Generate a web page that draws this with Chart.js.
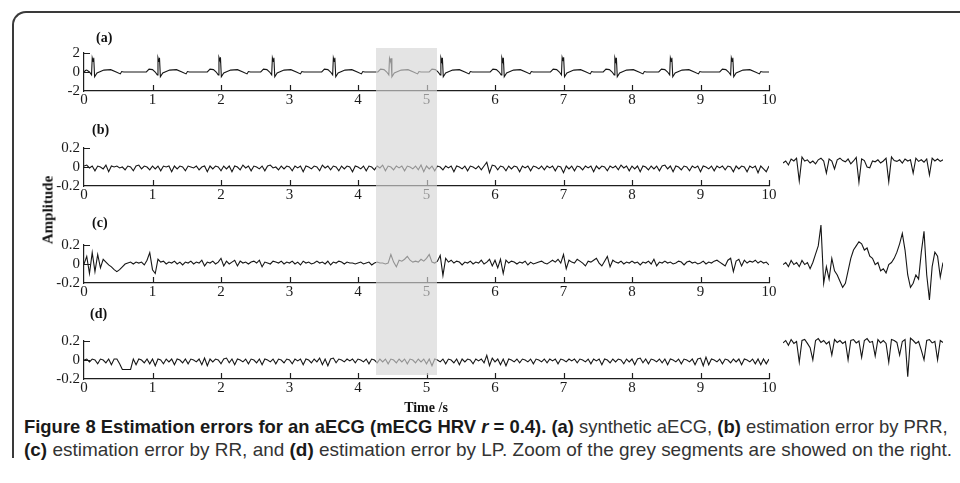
<!DOCTYPE html>
<html>
<head>
<meta charset="utf-8">
<script src="https://cdn.jsdelivr.net/npm/chart.js@4.4.1/dist/chart.umd.min.js"></script>
<style>
html, body { margin: 0; padding: 0; background: #fff; }
body { width: 960px; height: 483px; position: relative; overflow: hidden; }
canvas { position: absolute; }
.frame { position: absolute; left: 12px; top: 11px; width: 990px; height: 445px; border-top: 2px solid #3a3a3a; border-left: 2px solid #3a3a3a; border-top-left-radius: 14px; }
.lbl { position: absolute; font-family: 'Liberation Serif', serif; font-weight: bold; font-size: 14px; color: #111; white-space: nowrap; }
.grey { position: absolute; background: rgba(213, 213, 213, 0.65); }
.cap { position: absolute; left: 24px; white-space: nowrap; font-family: 'Liberation Sans Narrow', 'Liberation Sans', sans-serif; font-size: 19px; line-height: 20px; color: #333; transform-origin: 0 0; }
.cap b { color: #1a1a1a; }
</style>
</head>
<body>
<div class="frame"></div>
<canvas id="pa" width="770" height="75" style="left:20px;top:40px"></canvas>
<canvas id="pb" width="770" height="75" style="left:20px;top:135px"></canvas>
<canvas id="pc" width="770" height="75" style="left:20px;top:232px"></canvas>
<canvas id="pd" width="770" height="75" style="left:20px;top:328px"></canvas>
<canvas id="zb" width="162" height="50" style="left:782px;top:138px"></canvas>
<canvas id="zc" width="162" height="85" style="left:782px;top:220px"></canvas>
<canvas id="zd" width="162" height="60" style="left:782px;top:325px"></canvas>
<div class="lbl" style="left:96px;top:30px">(a)</div>
<div class="lbl" style="left:92px;top:122px">(b)</div>
<div class="lbl" style="left:92px;top:215px">(c)</div>
<div class="lbl" style="left:90px;top:306px">(d)</div>
<div class="lbl" style="left:48px;top:210px;font-size:15px;transform:translate(-50%,-50%) rotate(-90deg)">Amplitude</div>
<div class="lbl" style="left:426px;top:408px;transform:translate(-50%,-50%)">Time /s</div>
<div class="grey" id="greyBox"></div>
<div class="cap" style="top:417px"><b>Figure 8 Estimation errors for an aECG (mECG HRV <i>r</i> = 0.4).</b> <b>(a)</b> synthetic aECG, <b>(b)</b> estimation error by PRR,</div>
<div class="cap" style="top:440px"><b>(c)</b> estimation error by RR, and <b>(d)</b> estimation error by LP. Zoom of the grey segments are showed on the right.</div>
<script>
var axisColor = '#1e1e1e';
var traceColor = '#161616';

// time axis (s)
var xTickValues = [0, 1, 2, 3, 4, 5, 6, 7, 8, 9, 10];
var yTicksEcg = [-2, 0, 2];
var yTicksErr = [-0.2, 0, 0.2];
var greySegment = [4.27, 5.15];

// (a) synthetic aECG, [time, amplitude]
var ecgA = [
  [0, 0], [0.02, 0.15], [0.04, 0.2], [0.08, 0], [0.11, -0.3], [0.12, 1.5], [0.135, 1.1], [0.142, 1.5], [0.155, -0.5], [0.19, -0.1], [0.29, 0.2], [0.39, 0.25], [0.47, 0], [0.53, -0.2], [0.55, 0.05], [0.58, 0],
  [0.91, 0], [0.95, 0.3], [1.00, 0.25], [1.04, 0], [1.07, -0.3], [1.08, 1.5], [1.095, 1.1], [1.102, 1.5], [1.115, -0.5], [1.15, -0.1], [1.25, 0.2], [1.35, 0.25], [1.43, 0], [1.49, -0.2], [1.51, 0.05], [1.54, 0],
  [1.80, 0], [1.84, 0.3], [1.89, 0.25], [1.93, 0], [1.96, -0.3], [1.97, 1.55], [1.985, 1.2], [1.992, 1.55], [2.005, -0.5], [2.04, -0.1], [2.14, 0.2], [2.24, 0.25], [2.32, 0], [2.38, -0.2], [2.40, 0.05], [2.43, 0],
  [2.58, 0], [2.62, 0.3], [2.67, 0.25], [2.71, 0], [2.74, -0.3], [2.75, 1.5], [2.765, 1.1], [2.772, 1.5], [2.785, -0.5], [2.82, -0.1], [2.92, 0.2], [3.02, 0.25], [3.10, 0], [3.16, -0.2], [3.18, 0.05], [3.21, 0],
  [3.47, 0], [3.51, 0.3], [3.56, 0.25], [3.60, 0], [3.63, -0.3], [3.64, 1.5], [3.655, 1.1], [3.662, 1.5], [3.675, -0.5], [3.71, -0.1], [3.81, 0.2], [3.91, 0.25], [3.99, 0], [4.05, -0.2], [4.07, 0.05], [4.10, 0],
  [4.29, 0], [4.33, 0.3], [4.38, 0.25], [4.42, 0], [4.45, -0.3], [4.46, 1.45], [4.475, 1.1], [4.482, 1.45], [4.495, -0.5], [4.53, -0.1], [4.63, 0.2], [4.73, 0.25], [4.81, 0], [4.87, -0.2], [4.89, 0.05], [4.92, 0],
  [5.04, 0], [5.08, 0.3], [5.13, 0.25], [5.17, 0], [5.20, -0.3], [5.21, 1.5], [5.225, 1.1], [5.232, 1.5], [5.245, -0.5], [5.28, -0.1], [5.38, 0.2], [5.48, 0.25], [5.56, 0], [5.62, -0.2], [5.64, 0.05], [5.67, 0],
  [5.93, 0], [5.97, 0.3], [6.02, 0.25], [6.06, 0], [6.09, -0.3], [6.10, 1.5], [6.115, 1.1], [6.122, 1.5], [6.135, -0.5], [6.17, -0.1], [6.27, 0.2], [6.37, 0.25], [6.45, 0], [6.51, -0.2], [6.53, 0.05], [6.56, 0],
  [6.81, 0], [6.85, 0.3], [6.90, 0.25], [6.94, 0], [6.97, -0.3], [6.98, 1.55], [6.995, 1.2], [7.002, 1.55], [7.015, -0.5], [7.05, -0.1], [7.15, 0.2], [7.25, 0.25], [7.33, 0], [7.39, -0.2], [7.41, 0.05], [7.44, 0],
  [7.58, 0], [7.62, 0.3], [7.67, 0.25], [7.71, 0], [7.74, -0.3], [7.75, 1.5], [7.765, 1.1], [7.772, 1.5], [7.785, -0.5], [7.82, -0.1], [7.92, 0.2], [8.02, 0.25], [8.10, 0], [8.16, -0.2], [8.18, 0.05], [8.21, 0],
  [8.39, 0], [8.43, 0.3], [8.48, 0.25], [8.52, 0], [8.55, -0.3], [8.56, 1.5], [8.575, 1.1], [8.582, 1.5], [8.595, -0.5], [8.63, -0.1], [8.73, 0.2], [8.83, 0.25], [8.91, 0], [8.97, -0.2], [8.99, 0.05], [9.02, 0],
  [9.28, 0], [9.32, 0.3], [9.37, 0.25], [9.41, 0], [9.44, -0.3], [9.45, 1.5], [9.465, 1.1], [9.472, 1.5], [9.485, -0.5], [9.52, -0.1], [9.62, 0.2], [9.72, 0.25], [9.80, 0], [9.86, -0.2], [9.88, 0.05], [9.91, 0],
  [10, 0]
];

// (b) estimation error by PRR, evenly sampled over 0..10 s
var errPRR = [
  0.01, 0.02, -0.01, 0.01, -0.04, 0.01, 0, -0.02, 0.02, -0.05, 0.01, 0, 0.01, -0.01, 0, -0.03, 0.01, 0, -0.04, 0.01, 0.02, -0.02, 0.01, 0, -0.03,
  0.01, -0.02, 0.01, -0.04, 0.01, 0, 0.01, -0.05, 0.01, -0.02, 0.01, 0, -0.04, 0.01, 0, -0.01, 0.01, -0.03, 0, 0.01, -0.05, 0.01, -0.02, 0.01, 0,
  -0.04, 0.01, -0.02, 0.01, -0.05, 0.01, 0, -0.03, 0.02, -0.01, 0.01, -0.04, 0.01, 0, -0.02, 0.01, -0.04, 0.01, 0.02, -0.01, 0, -0.03, 0.01, -0.02, 0.01,
  0, -0.04, 0.01, -0.01, 0.01, -0.05, 0.01, 0, -0.02, 0.01, 0, -0.04, 0.02, -0.01, 0.01, -0.03, 0.01, 0, -0.04, 0.01, -0.02, 0.01, 0, -0.05, 0.01,
  0, -0.02, 0.01, -0.04, 0.01, 0, -0.03, 0.01, -0.01, 0.02, -0.04, 0.01, 0, -0.03, 0.01, -0.01, 0.01, -0.04, 0.01, 0, -0.02, 0.01, -0.03, 0.02, -0.05,
  0.01, -0.02, 0.01, -0.04, 0.01, 0, -0.03, 0.01, -0.01, 0.01, -0.05, 0.01, 0, -0.02, 0.01, -0.04, 0.01, 0, -0.02, 0.01, -0.03, 0.01, 0.05, -0.06, 0.02,
  0.01, -0.03, 0.01, 0, -0.04, 0.01, -0.02, 0.01, 0, -0.05, 0.01, -0.01, 0.01, -0.04, 0.01, 0, -0.02, 0.01, -0.03, 0.01, -0.01, 0.01, -0.04, 0.01, 0,
  -0.06, 0.01, -0.02, 0.01, -0.04, 0.01, 0, -0.03, 0.01, -0.01, 0.01, -0.05, 0.01, -0.02, 0.01, 0, -0.04, 0.01, -0.01, 0.01, -0.03, 0.02, -0.01, 0.01, -0.04,
  0.01, -0.02, 0.01, -0.05, 0.01, 0, -0.03, 0.01, -0.02, 0.01, -0.04, 0.01, 0.02, -0.02, 0.01, -0.05, 0.01, 0, -0.03, 0.01, 0, -0.04, 0.01, -0.01, 0.01,
  -0.05, 0.01, 0, -0.02, 0.01, -0.04, 0.01, -0.01, 0.01, -0.03, 0.01, 0, -0.05, 0.01, -0.02, 0.01, 0, -0.05, 0.01, -0.01, 0.01, -0.06, 0.01, -0.02, -0.05,
  0.01
];

// (c) estimation error by RR
var errRR = [
  0, 0.08, -0.1, 0.12, -0.08, 0.1, -0.04, 0.05, 0.02, -0.01, -0.03, -0.06, -0.08, -0.06, -0.03, 0, 0.01, 0.02, 0, 0.02, 0.01, 0.02, -0.01, 0.04, 0.12,
  -0.06, -0.1, 0.05, 0.02, 0.03, 0, 0.02, 0.01, 0.03, 0, 0.02, -0.01, 0.02, 0.01, 0.03, 0, 0.02, 0.01, 0.04, -0.02, 0.02, 0.01, 0.03, 0, 0.02,
  0.06, -0.02, 0.03, 0, 0.02, 0.04, -0.02, 0.03, 0.01, 0.02, 0, 0.02, 0.03, 0.01, 0.04, -0.03, 0.02, 0.01, 0, 0.03, 0.02, 0.01, 0.03, 0, 0.02,
  0.01, 0.03, 0, 0.02, -0.01, 0.03, 0.01, 0.02, 0, 0.01, 0.03, 0.01, 0.02, 0, 0.03, -0.01, 0.02, 0.01, 0.03, 0.02, 0, 0.02, 0.01, 0.01, 0,
  0.01, 0.02, 0, 0.01, 0.02, -0.01, 0.01, 0.02, 0.01, 0.01, 0, 0.01, 0.1, 0.02, -0.03, 0.04, 0.03, 0.05, 0.08, 0.04, 0.02, 0.03, 0.02, 0.05, 0.03,
  0.06, 0.1, 0.02, 0.01, 0.03, 0.09, -0.12, 0.06, 0.02, 0.04, 0.01, 0.03, 0.02, -0.01, 0.02, 0.01, 0.03, 0, 0.02, 0.01, 0.04, 0, 0.02, 0.05, -0.02,
  0.04, -0.04, 0.05, -0.1, 0.04, 0.01, 0.03, 0.02, 0, 0.02, 0.01, 0.03, -0.01, 0.02, 0, 0.01, 0.02, 0.03, 0.01, 0, 0.02, 0.04, 0.02, 0.05, 0.01,
  0.1, -0.05, 0.04, 0.02, 0.01, 0.05, 0.03, 0.01, -0.02, 0.03, 0.02, 0.04, 0.06, 0.01, -0.02, 0.03, 0.08, -0.03, 0.04, 0.02, 0.01, 0.03, 0, 0.02, 0.01,
  0.03, 0.01, 0.02, -0.01, 0.02, 0.01, 0.03, 0, 0.05, -0.02, 0.02, 0.01, 0.03, 0.01, 0.02, 0, 0.01, 0.03, 0.02, -0.01, 0.02, 0.03, 0.01, 0.02, 0,
  0.01, 0.03, 0, 0.02, 0.01, 0.03, 0.04, 0.02, 0, -0.02, 0.04, 0.06, -0.08, 0.03, 0.05, -0.02, 0.04, 0.01, 0.03, 0.02, 0.04, 0.01, 0.03, 0.01, 0.02,
  -0.01
];

// (d) estimation error by LP
var errLP = [
  0, 0.01, -0.02, 0.01, 0, -0.04, 0.01, 0, -0.03, 0.01, -0.05, 0.01, 0.01, -0.04, -0.1, -0.1, -0.1, -0.1, 0.01, -0.05, 0.01, 0, -0.03, 0.01, -0.04,
  0.01, -0.06, 0.01, 0, -0.04, 0.01, -0.02, 0.01, -0.05, 0.01, 0, -0.03, 0.01, -0.04, 0.01, 0, -0.02, 0.01, -0.05, 0.02, -0.06, 0.01, -0.02, 0.01, 0,
  -0.04, 0.01, 0.02, -0.03, 0.01, -0.05, 0.01, 0, -0.02, 0.01, -0.04, 0.01, 0, -0.03, 0.01, -0.05, 0.01, 0, -0.02, 0.01, -0.04, 0.01, 0, -0.03, 0.01,
  0, -0.04, 0.01, -0.01, 0.01, -0.05, 0.01, 0, -0.03, 0.01, -0.02, 0.02, -0.05, 0.01, -0.06, 0.01, 0.02, -0.03, 0.01, 0, -0.02, 0.01, -0.01, 0.01, -0.03,
  0.01, 0, -0.02, 0.01, -0.04, 0.01, 0, -0.03, 0.01, -0.02, 0.01, -0.04, 0.01, 0, -0.03, 0.01, -0.02, 0.01, -0.04, 0.01, 0, -0.03, 0.01, -0.02, 0.01,
  -0.04, 0.01, -0.06, 0.01, 0, -0.02, 0.01, -0.04, 0.01, 0, -0.03, 0.01, -0.05, 0.01, -0.02, 0.01, 0, -0.04, 0.01, -0.01, 0.01, -0.03, 0.05, -0.06, 0.02,
  -0.02, 0.01, -0.05, 0.01, -0.06, 0.01, 0, -0.02, 0.01, -0.03, 0.01, 0, -0.02, 0.01, -0.04, 0.01, 0, -0.02, 0.01, -0.03, 0.01, -0.01, 0.01, -0.04, 0.01,
  0, -0.02, 0.01, -0.01, 0.01, -0.03, 0.01, 0, -0.02, 0.01, -0.04, 0.01, -0.01, 0.01, -0.05, 0.01, 0, -0.03, 0.01, -0.02, 0.01, 0, -0.04, 0.01, -0.02,
  0.01, -0.05, 0.01, 0.02, -0.03, 0.01, -0.04, 0.01, 0, -0.02, 0.01, -0.03, 0.01, -0.05, 0.01, 0, -0.02, 0.01, -0.04, 0.01, 0, -0.02, 0.01, -0.05, 0.01,
  0.02, -0.06, 0.03, -0.05, 0.01, 0, -0.02, 0.01, -0.04, 0.01, 0, -0.03, 0.01, -0.02, 0.01, -0.05, 0.01, 0, -0.02, 0.01, -0.04, 0.01, -0.05, 0.01, -0.04,
  0.01
];

// zoom of the grey segment (right column), magnified
var zoomPRR = [0, 0.005, -0.005, 0.01, 0.005, 0.012, -0.045, 0.015, 0.005, 0.008, 0, 0.005, -0.002, 0.008, 0.012, 0.005, -0.025, 0.01, 0.005, -0.015, 0.008, 0.012, 0.006, 0.003, 0.01, -0.002, 0.005, 0.014, -0.048, 0.01, 0.006, -0.01, -0.012, 0.005, 0.003, 0.008, 0, 0.005, 0.012, -0.047, 0.015, 0.006, 0.004, 0.008, 0, 0.01, 0.005, 0.008, -0.025, 0.012, 0.004, 0.008, 0.002, 0.01, -0.03, 0.012, 0.005, 0.01, 0.004, 0.008];
var zoomRR = [-0.01, 0, -0.02, 0.01, -0.01, 0, -0.02, 0.01, -0.01, 0, -0.03, 0, 0.04, 0.08, 0.18, -0.1, -0.02, -0.08, 0.02, -0.04, -0.06, -0.09, -0.12, -0.1, -0.04, 0.02, 0.06, 0.08, 0.1, 0.09, 0.06, 0.07, 0.03, 0.02, -0.01, 0, -0.04, -0.03, -0.05, -0.01, 0, 0.02, 0.05, 0.09, 0.14, 0.06, -0.06, -0.12, -0.1, -0.06, -0.08, 0.05, 0.15, -0.06, -0.18, -0.02, 0.05, 0.03, -0.07, 0];
var zoomLP = [0.005, 0.01, 0, 0.012, 0.004, 0.008, -0.035, 0.01, 0.012, 0.004, -0.005, -0.03, 0.01, 0.014, 0.006, 0.01, 0.003, 0.008, -0.02, 0.012, 0.006, 0.01, 0.004, 0.008, -0.03, 0.01, 0.012, 0.005, 0.009, -0.025, 0.01, 0.014, 0.006, 0.008, -0.022, 0.012, 0.005, 0.01, 0.004, -0.035, 0.012, 0.01, 0.006, -0.02, 0.008, 0.012, -0.065, 0.015, 0.01, 0.004, 0.008, -0.01, -0.03, 0.01, 0.012, 0.005, 0.008, -0.03, 0.01, 0.006];

function pairsToPoints(pairs) {
  return pairs.map(function(p) { return { x: p[0], y: p[1] }; });
}

function sampledToPoints(values, tStart, tEnd) {
  var step = (tEnd - tStart) / (values.length - 1);
  return values.map(function(v, i) { return { x: tStart + i * step, y: v }; });
}

function indexToPoints(values) {
  return values.map(function(v, i) { return { x: i, y: v }; });
}

// matlab style ticks pointing into the axes box
var innerTicks = {
  id: 'innerTicks',
  afterDraw: function(chart) {
    var ctx = chart.ctx, area = chart.chartArea, xs = chart.scales.x, ys = chart.scales.y;
    if (!xs.options.display) return;
    ctx.save();
    ctx.strokeStyle = axisColor;
    ctx.lineWidth = 1.2;
    ctx.beginPath();
    xs.ticks.forEach(function(t) {
      if (t.value === xs.min) return;
      var px = Math.round(xs.getPixelForValue(t.value)) + 0.5;
      ctx.moveTo(px, area.bottom);
      ctx.lineTo(px, area.bottom - 6);
    });
    ys.ticks.forEach(function(t) {
      if (t.value === ys.min) return;
      var py = Math.round(ys.getPixelForValue(t.value)) + 0.5;
      ctx.moveTo(area.left, py);
      ctx.lineTo(area.left + 6, py);
    });
    ctx.stroke();
    ctx.restore();
  }
};

var tickFont = { family: "'Liberation Serif', 'Times New Roman', serif", size: 15 };

function makePanel(id, points, yMin, yMax, yTicks) {
  return new Chart(document.getElementById(id), {
    type: 'line',
    data: { datasets: [{ data: points, borderColor: traceColor, borderWidth: 1.1, pointRadius: 0, tension: 0, fill: false }] },
    options: {
      responsive: false,
      animation: false,
      devicePixelRatio: 1,
      layout: { padding: { top: 10, right: 21, left: 0, bottom: 0 } },
      plugins: { legend: { display: false }, tooltip: { enabled: false } },
      scales: {
        x: {
          type: 'linear', min: 0, max: 10,
          afterBuildTicks: function(s) { s.ticks = xTickValues.map(function(v) { return { value: v }; }); },
          afterFit: function(s) { s.height = 24; },
          grid: { display: false, drawTicks: false },
          border: { display: true, color: axisColor, width: 1.2 },
          ticks: { font: tickFont, color: '#1a1a1a', padding: 0, maxRotation: 0, autoSkip: false,
            callback: function(v) { return String(v); } }
        },
        y: {
          type: 'linear', min: yMin, max: yMax,
          afterBuildTicks: function(s) { s.ticks = yTicks.map(function(v) { return { value: v }; }); },
          afterFit: function(s) { s.width = 64; },
          grid: { display: false, drawTicks: false },
          border: { display: true, color: axisColor, width: 1.2 },
          ticks: { font: tickFont, color: '#1a1a1a', padding: 4, autoSkip: false,
            callback: function(v) { return String(v); } }
        }
      }
    },
    plugins: [innerTicks]
  });
}

function makeZoom(id, points, yMin, yMax) {
  return new Chart(document.getElementById(id), {
    type: 'line',
    data: { datasets: [{ data: points, borderColor: traceColor, borderWidth: 1.1, pointRadius: 0, tension: 0, fill: false }] },
    options: {
      responsive: false,
      animation: false,
      devicePixelRatio: 1,
      layout: { padding: 1 },
      plugins: { legend: { display: false }, tooltip: { enabled: false } },
      scales: {
        x: { type: 'linear', display: false, min: 0, max: points.length - 1 },
        y: { type: 'linear', display: false, min: yMin, max: yMax }
      }
    }
  });
}

var chartA = makePanel('pa', pairsToPoints(ecgA), -2, 2, yTicksEcg);
makePanel('pb', sampledToPoints(errPRR, 0, 10), -0.2, 0.2, yTicksErr);
makePanel('pc', sampledToPoints(errRR, 0, 10), -0.2, 0.2, yTicksErr);
makePanel('pd', sampledToPoints(errLP, 0, 10), -0.2, 0.2, yTicksErr);

makeZoom('zb', indexToPoints(zoomPRR), -0.06, 0.06);
makeZoom('zc', indexToPoints(zoomRR), -0.2, 0.2);
makeZoom('zd', indexToPoints(zoomLP), -0.08, 0.04);

// grey segment shading, placed with the time scale of panel (a)
var xsA = chartA.scales.x;
var canvasLeft = 20;
var box = document.getElementById('greyBox');
var gx0 = canvasLeft + xsA.getPixelForValue(greySegment[0]);
var gx1 = canvasLeft + xsA.getPixelForValue(greySegment[1]);
box.style.left = gx0 + 'px';
box.style.width = (gx1 - gx0) + 'px';
box.style.top = '48px';
box.style.height = '327px';

// stretch caption lines to the column width
var capWidths = [924, 928];
document.querySelectorAll('.cap').forEach(function(el, i) {
  el.style.transform = 'scaleX(' + (capWidths[i] / el.offsetWidth) + ')';
});
</script>
</body>
</html>
